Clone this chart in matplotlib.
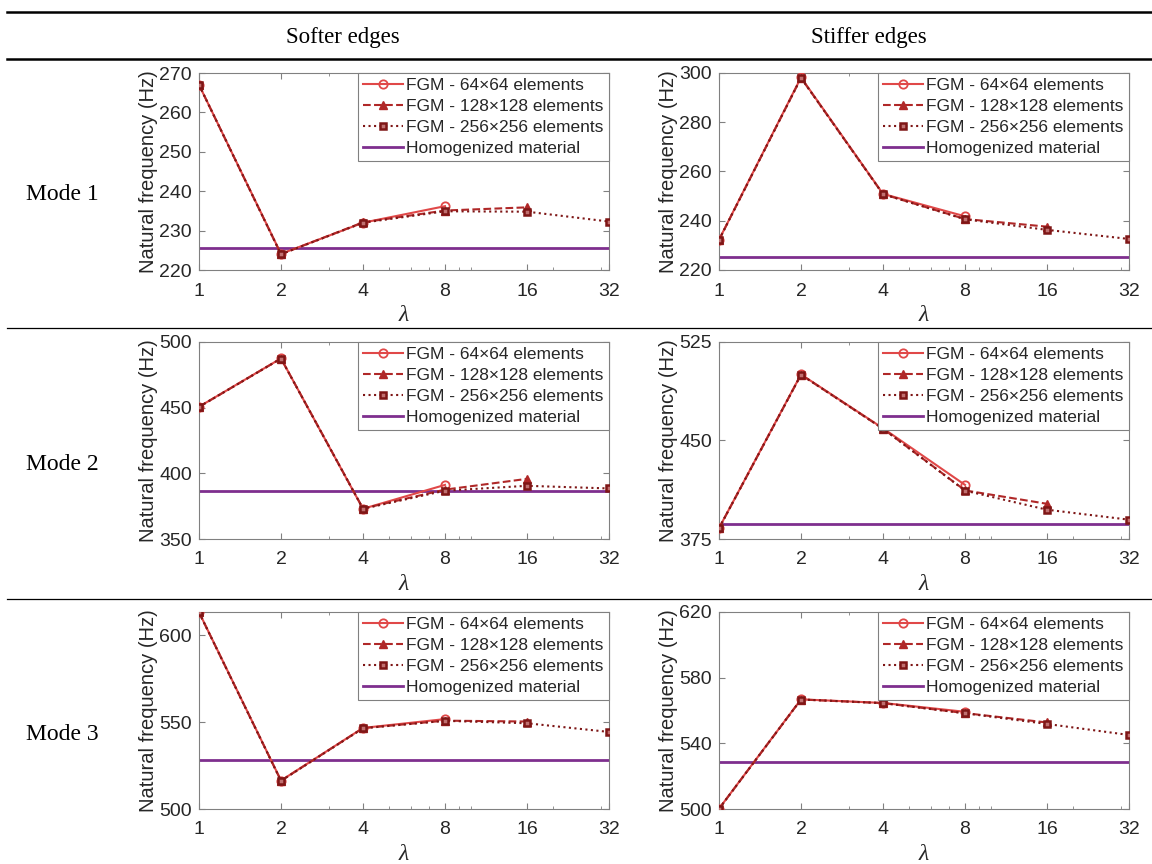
import numpy as np
import matplotlib.pyplot as plt
from matplotlib.ticker import FixedLocator, NullFormatter
from matplotlib.lines import Line2D

plt.rcParams['font.family'] = ['Liberation Sans', 'DejaVu Sans']

lam = [1, 2, 4, 8, 16, 32]

# Mode 1
m1_soft_64 = [267.0, 224.1, 232.0, 236.2]
m1_soft_128 = [267.0, 224.0, 232.1, 235.1, 235.9]
m1_soft_256 = [267.0, 224.0, 232.0, 234.9, 234.8, 232.3]
m1_soft_hom = 225.5
m1_stiff_64 = [232.3, 298.2, 250.9, 241.8]
m1_stiff_128 = [232.2, 298.0, 250.8, 240.7, 237.6]
m1_stiff_256 = [232.2, 298.0, 250.8, 240.6, 236.3, 232.6]
m1_stiff_hom = 225.4

# Mode 2
m2_soft_64 = [450.7, 487.5, 373.0, 391.2]
m2_soft_128 = [450.6, 487.4, 373.2, 387.6, 395.8]
m2_soft_256 = [450.6, 487.4, 373.0, 386.8, 390.5, 388.5]
m2_soft_hom = 386.7
m2_stiff_64 = [383.3, 500.3, 459.3, 416.2]
m2_stiff_128 = [383.2, 500.1, 459.0, 412.0, 401.8]
m2_stiff_256 = [383.2, 500.1, 459.0, 411.8, 397.3, 389.7]
m2_stiff_hom = 386.6

# Mode 3
m3_soft_64 = [613.4, 516.4, 546.7, 551.8]
m3_soft_128 = [613.3, 516.3, 546.6, 550.9, 550.4]
m3_soft_256 = [613.3, 516.2, 546.5, 550.8, 549.4, 544.4]
m3_soft_hom = 528.3
m3_stiff_64 = [500.2, 566.8, 564.6, 559.2]
m3_stiff_128 = [500.1, 566.7, 564.5, 558.4, 552.7]
m3_stiff_256 = [500.1, 566.7, 564.5, 558.3, 551.8, 545.1]
m3_stiff_hom = 528.5

col_titles = ['Softer edges', 'Stiffer edges']
row_titles = ['Mode 1', 'Mode 2', 'Mode 3']
labels = ['FGM - 64\u00d764 elements', 'FGM - 128\u00d7128 elements',
          'FGM - 256\u00d7256 elements', 'Homogenized material']

panels = [
    [(m1_soft_64, m1_soft_128, m1_soft_256, m1_soft_hom, (220, 270), [220, 230, 240, 250, 260, 270]),
     (m1_stiff_64, m1_stiff_128, m1_stiff_256, m1_stiff_hom, (220, 300), [220, 240, 260, 280, 300])],
    [(m2_soft_64, m2_soft_128, m2_soft_256, m2_soft_hom, (350, 500), [350, 400, 450, 500]),
     (m2_stiff_64, m2_stiff_128, m2_stiff_256, m2_stiff_hom, (375, 525), [375, 450, 525])],
    [(m3_soft_64, m3_soft_128, m3_soft_256, m3_soft_hom, (500, 613.5), [500, 550, 600]),
     (m3_stiff_64, m3_stiff_128, m3_stiff_256, m3_stiff_hom, (500, 620), [500, 540, 580, 620])],
]

c64 = '#e04848'
c128 = '#b02828'
c256 = '#7e1616'
chom = '#7e2f8e'
axcol = '#808080'
txtcol = '#262626'

W, H = 1152, 864
fig = plt.figure(figsize=(W / 100, H / 100), dpi=100)

# table rules
for y, lw in [(12, 1.8), (58.5, 1.8), (328.5, 0.9), (598.5, 0.9)]:
    fig.add_artist(Line2D([0.006, 1.0], [1 - y / H, 1 - y / H], color='black', lw=lw))

fig.text(343 / W, 1 - 37 / H, col_titles[0], family='Liberation Serif', fontsize=16.5,
         ha='center', va='center')
fig.text(869 / W, 1 - 37 / H, col_titles[1], family='Liberation Serif', fontsize=16.5,
         ha='center', va='center')

lefts = [199, 719]
tops = [73, 342, 612]
aw, ah = 410, 197

for r in range(3):
    fig.text(62 / W, 1 - (tops[r] + 122) / H, row_titles[r], family='Liberation Serif',
             fontsize=17, ha='center', va='center')
    for c in range(2):
        d64, d128, d256, hom, ylim, yt = panels[r][c]
        ax = fig.add_axes([lefts[c] / W, 1 - (tops[r] + ah) / H, aw / W, ah / H])
        ax.set_xscale('log')
        ax.plot(lam[:len(d64)], d64, '-o', color=c64, lw=1.5, ms=6, mfc='none', mew=1.3,
                label=labels[0], zorder=3)
        ax.plot(lam[:len(d128)], d128, '--^', color=c128, lw=1.5, ms=5.5, mew=1.0,
                label=labels[1], zorder=4)
        ax.plot(lam[:len(d256)], d256, ':s', color=c256, lw=1.5, ms=5, mfc='#c07070', mew=1.8,
                label=labels[2], zorder=5)
        ax.plot([lam[0], lam[-1]], [hom, hom], '-', color=chom, lw=2.0, label=labels[3], zorder=2)
        ax.set_xlim(lam[0], lam[-1])
        ax.set_ylim(*ylim)
        ax.xaxis.set_major_locator(FixedLocator(lam))
        ax.xaxis.set_minor_locator(FixedLocator([3, 5, 6, 7, 9, 10, 20, 30]))
        ax.xaxis.set_minor_formatter(NullFormatter())
        ax.set_xticklabels([str(v) for v in lam])
        ax.set_yticks(yt)
        ax.set_yticklabels([str(v) for v in yt])
        ax.tick_params(which='both', direction='in', top=True, right=True, color=axcol,
                       labelcolor=txtcol, labelsize=14)
        ax.tick_params(which='major', length=4, width=0.8)
        ax.tick_params(axis='x', which='major', pad=9)
        ax.tick_params(axis='y', which='major', pad=5)
        ax.tick_params(which='minor', length=2.5, width=0.6)
        for s in ax.spines.values():
            s.set_color(axcol)
            s.set_linewidth(0.8)
        ax.set_ylabel('Natural frequency (Hz)', fontsize=14.5, color=txtcol, labelpad=1)
        ax.set_xlabel('\u03bb', family='Liberation Serif', style='italic', fontsize=17,
                      color=txtcol, labelpad=4)
        leg = ax.legend(loc='upper right', borderaxespad=0, fancybox=False, framealpha=1,
                        edgecolor=axcol, prop={'size': 12.5},
                        handlelength=2.3, handletextpad=0.2, labelspacing=0.33,
                        borderpad=0.3)
        leg.get_frame().set_linewidth(0.8)
        for t in leg.get_texts():
            t.set_color(txtcol)

fig.savefig('out.png', dpi=100)
